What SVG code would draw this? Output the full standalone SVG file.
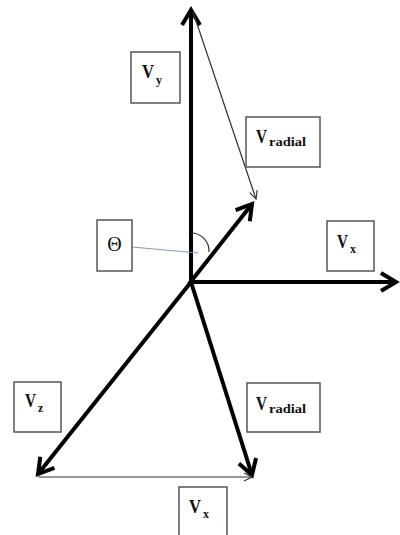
<svg xmlns="http://www.w3.org/2000/svg" width="400" height="535" viewBox="0 0 400 535">
<style>
.box{fill:#fff;stroke:#555;stroke-width:1.5}
.thick{stroke:#000;stroke-width:4;fill:none}
.thin{stroke:#333;stroke-width:1.2;fill:none}
.v{font-family:"Liberation Serif",serif;font-weight:bold;font-size:19px;fill:#111}
.s{font-family:"Liberation Serif",serif;font-weight:bold;font-size:12px;fill:#111}
.th{font-family:"Liberation Serif",serif;font-size:20px;fill:#111}
</style>
<defs>
<marker id="big" viewBox="-20 -14 24 28" markerWidth="24" markerHeight="28" refX="0" refY="0" markerUnits="userSpaceOnUse" orient="auto">
<path d="M-15,-9 L0,0 L-15,9" fill="none" stroke="#000" stroke-width="4" stroke-linejoin="miter"/>
</marker>
<marker id="small" viewBox="-12 -8 14 16" markerWidth="14" markerHeight="16" refX="0" refY="0" markerUnits="userSpaceOnUse" orient="auto">
<path d="M-8,-4 L0,0 L-8,4" fill="none" stroke="#333" stroke-width="1.2"/>
</marker>
</defs>
<rect width="400" height="535" fill="#fff"/>
<g id="connectors">
<line class="thick" x1="191" y1="284" x2="191" y2="10" marker-end="url(#big)"/>
<line class="thick" x1="189" y1="282" x2="396" y2="282" marker-end="url(#big)"/>
<line class="thick" x1="189" y1="284" x2="252" y2="204" marker-end="url(#big)"/>
<line class="thick" x1="191" y1="282" x2="38" y2="474" marker-end="url(#big)"/>
<line class="thick" x1="191" y1="282" x2="252" y2="475" marker-end="url(#big)"/>
<line class="thin" x1="193" y1="12" x2="256" y2="199" marker-end="url(#small)"/>
<line class="thin" x1="38" y1="477" x2="252" y2="477" marker-end="url(#small)"/>
<path class="thin" d="M191,233 A18 18 0 0 1 209,252" stroke="#000" stroke-width="1.5"/>
<line x1="132" y1="247" x2="198" y2="253" stroke="#7f9cc4" stroke-width="1.2"/>
</g>
<g id="label-vy">
<rect class="box" x="131" y="52" width="49" height="51"/>
<text class="v" x="142" y="78" textLength="12" lengthAdjust="spacingAndGlyphs">V</text>
<text class="s" x="156" y="84">y</text>
</g>
<g id="label-vradial-top">
<rect class="box" x="246" y="117" width="74" height="50"/>
<text class="v" x="256" y="143" textLength="11" lengthAdjust="spacingAndGlyphs">V</text>
<text class="s" x="269" y="146" textLength="37" lengthAdjust="spacingAndGlyphs">radial</text>
</g>
<g id="label-theta">
<rect class="box" x="97" y="220" width="35" height="51"/>
<text class="th" x="114.5" y="251" text-anchor="middle">Θ</text>
</g>
<g id="label-vx-right">
<rect class="box" x="327" y="221" width="47" height="50"/>
<text class="v" x="337" y="248" textLength="11" lengthAdjust="spacingAndGlyphs">V</text>
<text class="s" x="350" y="253">x</text>
</g>
<g id="label-vz">
<rect class="box" x="14" y="382" width="47" height="50"/>
<text class="v" x="25" y="407" textLength="11" lengthAdjust="spacingAndGlyphs">V</text>
<text class="s" x="38" y="412">z</text>
</g>
<g id="label-vradial-bottom">
<rect class="box" x="247" y="383" width="73" height="49"/>
<text class="v" x="256" y="410" textLength="11" lengthAdjust="spacingAndGlyphs">V</text>
<text class="s" x="269" y="413" textLength="37" lengthAdjust="spacingAndGlyphs">radial</text>
</g>
<g id="label-vx-bottom">
<rect class="box" x="179" y="487" width="48" height="52"/>
<text class="v" x="189" y="513" textLength="12" lengthAdjust="spacingAndGlyphs">V</text>
<text class="s" x="203" y="518">x</text>
</g>
</svg>
